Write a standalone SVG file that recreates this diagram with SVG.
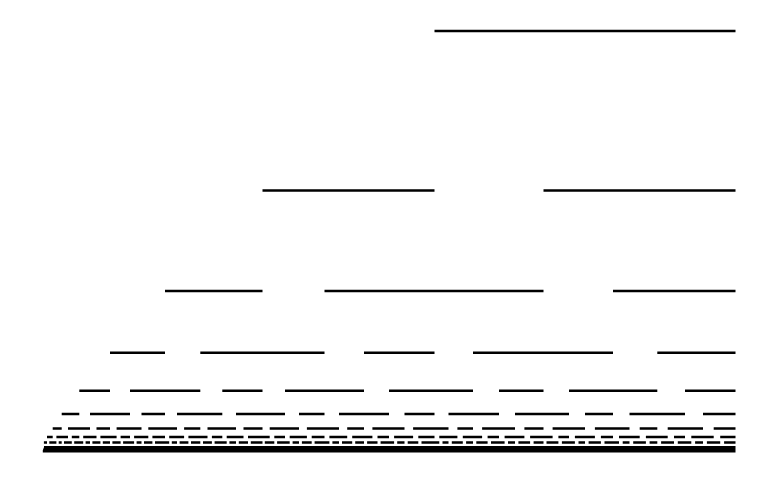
<svg xmlns="http://www.w3.org/2000/svg" width="779" height="482" viewBox="0 0 779 482">
<style>
.row{fill:none;stroke:#000;stroke-width:2.4;stroke-linecap:butt}
</style>
<rect x="0" y="0" width="779" height="482" fill="#fff"/>
<g id="rows">
<path id="row1" class="row" d="M434.5 31H735.5"/>
<path id="row2" class="row" d="M262.5 190.5H434.5M543.5 190.5H735.5"/>
<path id="row3" class="row" d="M165 291H262.5M324.5 291H543.5M613 291H735.5"/>
<path id="row4" class="row" d="M110 352.7H165M200.3 352.7H324.5M364 352.7H434.5M473 352.7H613M657.3 352.7H735.5"/>
<path id="row5" class="row" d="M79.3 390.7H110M130 390.7H200.3M222.3 390.7H262.5M285 390.7H364M389 390.7H473M499 390.7H543.5M569 390.7H657.3M685 390.7H735.5"/>
<path id="row6" class="row" d="M61.7 414H79.3M90 414H130M141.5 414H165M177 414H222.3M236 414H285M299 414H324.5M339 414H389M404.5 414H434.5M448.5 414H499M515 414H569M585 414H613M629.5 414H685M703 414H735.5"/>
<path id="row7" class="row" d="M52.7 428.5H61.7M68 428.5H90M96.5 428.5H110M116.6 428.5H141.5M148.3 428.5H177M184.1 428.5H200.3M207.5 428.5H236M243.5 428.5H262.5M269.7 428.5H299M306.9 428.5H339M347.2 428.5H364M372.4 428.5H404.5M413.1 428.5H448.5M457.4 428.5H473M482.1 428.5H515M524.4 428.5H543.5M552.6 428.5H585M594.9 428.5H629.5M639.7 428.5H657.3M667.7 428.5H703M713.7 428.5H735.5"/>
<path id="row8" class="row" d="M47 437H52.7M56.4 437H68M71.8 437H79.3M83.2 437H96.5M100.4 437H116.6M120.6 437H130M134.1 437H148.3M152.4 437H165M169.2 437H184.1M188.4 437H207.5M211.9 437H222.3M226.7 437H243.5M248 437H269.7M274.3 437H285M289.7 437H306.9M311.7 437H324.5M329.4 437H347.2M352.2 437H372.4M377.5 437H389M394.1 437H413.1M418.3 437H434.5M439.3 437H457.4M462.8 437H482.1M487.6 437H499M504.6 437H524.4M530.1 437H552.6M558.4 437H569M574.9 437H594.9M600.9 437H613M619 437H639.7M645.9 437H667.7M674 437H685M691.3 437H713.7M720.2 437H735.5"/>
<path id="row9" class="row" d="M43.9 442.5H47M49.3 442.5H56.4M58.7 442.5H61.7M64 442.5H71.8M74.2 442.5H83.2M85.6 442.5H90M92.4 442.5H100.4M102.8 442.5H110M112.4 442.5H120.6M123.1 442.5H134.1M136.6 442.5H141.5M144 442.5H152.4M155 442.5H169.2M171.8 442.5H177M179.6 442.5H188.4M191 442.5H200.3M203 442.5H211.9M214.6 442.5H226.7M229.4 442.5H236M238.8 442.5H248M250.8 442.5H262.5M264.8 442.5H274.3M277.1 442.5H289.7M292.6 442.5H299M301.9 442.5H311.7M314.6 442.5H329.4M332.4 442.5H339M342 442.5H352.2M355.2 442.5H364M367.1 442.5H377.5M380.6 442.5H394.1M397.2 442.5H404.5M407.7 442.5H418.3M421.5 442.5H439.3M442.5 442.5H448.5M451.8 442.5H462.8M466.1 442.5H473M476.3 442.5H487.6M491 442.5H504.6M508 442.5H515M518.4 442.5H530.1M533.6 442.5H543.5M546.5 442.5H558.4M561.9 442.5H574.9M578.5 442.5H585M588.6 442.5H600.9M604.5 442.5H619M622.7 442.5H629.5M633.2 442.5H645.9M649.6 442.5H657.3M661.1 442.5H674M677.8 442.5H691.3M695.1 442.5H703M706.9 442.5H720.2M724.1 442.5H735.5"/>
<path id="band" class="row" d="M44 447.3H735.5M43.5 449H735.5M43.2 450.1H735.5M43 450.8H735.5M42.8 451.2H735.5"/>
</g>
</svg>
